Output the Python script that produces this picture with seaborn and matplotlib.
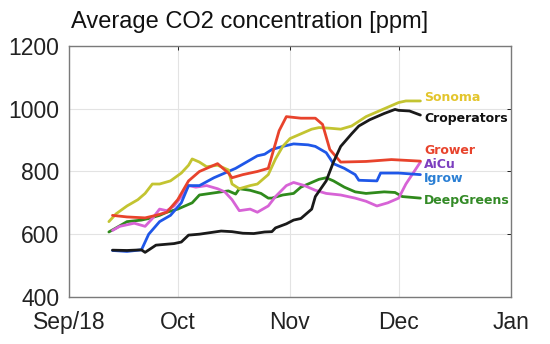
import seaborn as sns
import matplotlib.pyplot as plt
import pandas as pd

# values (ppm)
sonoma_dates = ['2018-09-12', '2018-09-14', '2018-09-17', '2018-09-20', '2018-09-22', '2018-09-24',
                '2018-09-26', '2018-09-29', '2018-10-02', '2018-10-04', '2018-10-05', '2018-10-07',
                '2018-10-09', '2018-10-12', '2018-10-15', '2018-10-16', '2018-10-18', '2018-10-21',
                '2018-10-23', '2018-10-26', '2018-10-28', '2018-10-30', '2018-11-01', '2018-11-04',
                '2018-11-07', '2018-11-09', '2018-11-12', '2018-11-15', '2018-11-18', '2018-11-22',
                '2018-11-25', '2018-11-28', '2018-12-01', '2018-12-03', '2018-12-07']
sonoma_ppm = [640, 665, 690, 710, 730, 760, 760, 770, 795, 820, 840, 830, 815, 820, 805, 760, 745, 755,
              760, 790, 840, 880, 905, 920, 935, 940, 938, 935, 945, 975, 990, 1005, 1020, 1025, 1025]

crop_dates = ['2018-09-13', '2018-09-17', '2018-09-21', '2018-09-22', '2018-09-25', '2018-09-30',
              '2018-10-02', '2018-10-04', '2018-10-07', '2018-10-10', '2018-10-13', '2018-10-16',
              '2018-10-19', '2018-10-22', '2018-10-25', '2018-10-27', '2018-10-28', '2018-10-31',
              '2018-11-02', '2018-11-04', '2018-11-07', '2018-11-08', '2018-11-11', '2018-11-13',
              '2018-11-15', '2018-11-18', '2018-11-20', '2018-11-23', '2018-11-27', '2018-11-30',
              '2018-12-01', '2018-12-04', '2018-12-07']
crop_ppm = [549, 548, 550, 542, 565, 570, 575, 597, 600, 605, 610, 608, 603, 602, 607, 608, 620, 633,
            645, 650, 680, 720, 770, 830, 880, 920, 945, 965, 985, 998, 995, 993, 980]

grower_dates = ['2018-09-13', '2018-09-17', '2018-09-22', '2018-09-25', '2018-09-28', '2018-10-01',
                '2018-10-04', '2018-10-07', '2018-10-11', '2018-10-12', '2018-10-15', '2018-10-16',
                '2018-10-19', '2018-10-23', '2018-10-26', '2018-10-27', '2018-10-29', '2018-10-31',
                '2018-11-04', '2018-11-08', '2018-11-10', '2018-11-12', '2018-11-15', '2018-11-22',
                '2018-11-29', '2018-12-07']
grower_ppm = [660, 655, 652, 660, 670, 710, 770, 800, 820, 825, 795, 780, 790, 800, 810, 850, 930, 975,
              970, 970, 950, 870, 830, 832, 838, 833]

aicu_dates = ['2018-09-13', '2018-09-15', '2018-09-19', '2018-09-22', '2018-09-24', '2018-09-26',
              '2018-09-28', '2018-09-30', '2018-10-02', '2018-10-04', '2018-10-06', '2018-10-09',
              '2018-10-12', '2018-10-14', '2018-10-16', '2018-10-18', '2018-10-21', '2018-10-23',
              '2018-10-26', '2018-10-28', '2018-10-31', '2018-11-02', '2018-11-05', '2018-11-08',
              '2018-11-11', '2018-11-15', '2018-11-19', '2018-11-22', '2018-11-25', '2018-11-28',
              '2018-12-01', '2018-12-03', '2018-12-07']
aicu_ppm = [612, 625, 635, 625, 650, 680, 675, 690, 720, 755, 750, 755, 745, 735, 710, 675, 680, 670,
            690, 720, 755, 765, 755, 740, 730, 725, 715, 705, 690, 700, 715, 760, 830]

igrow_dates = ['2018-09-13', '2018-09-17', '2018-09-21', '2018-09-23', '2018-09-26', '2018-09-29',
               '2018-10-02', '2018-10-04', '2018-10-07', '2018-10-11', '2018-10-15', '2018-10-17',
               '2018-10-20', '2018-10-23', '2018-10-25', '2018-10-27', '2018-10-30', '2018-11-02',
               '2018-11-06', '2018-11-08', '2018-11-11', '2018-11-13', '2018-11-16', '2018-11-19',
               '2018-11-20', '2018-11-25', '2018-11-26', '2018-12-01', '2018-12-07']
igrow_ppm = [548, 545, 550, 600, 640, 660, 700, 755, 755, 780, 800, 810, 830, 850, 855, 870, 880, 888,
             885, 880, 860, 825, 810, 790, 772, 770, 795, 795, 790]

deep_dates = ['2018-09-12', '2018-09-14', '2018-09-17', '2018-09-21', '2018-09-23', '2018-09-26',
              '2018-09-28', '2018-10-01', '2018-10-03', '2018-10-05', '2018-10-07', '2018-10-10',
              '2018-10-13', '2018-10-15', '2018-10-17', '2018-10-18', '2018-10-21', '2018-10-24',
              '2018-10-26', '2018-10-27', '2018-10-30', '2018-11-02', '2018-11-04', '2018-11-07',
              '2018-11-09', '2018-11-11', '2018-11-13', '2018-11-16', '2018-11-19', '2018-11-22',
              '2018-11-27', '2018-11-30', '2018-12-02', '2018-12-07']
deep_ppm = [607, 620, 640, 645, 650, 660, 670, 680, 690, 700, 725, 730, 735, 738, 728, 745, 740, 730,
            715, 715, 725, 730, 750, 765, 775, 780, 770, 750, 735, 730, 735, 733, 720, 715]

names = ['Sonoma', 'Croperators', 'Grower', 'AiCu', 'Igrow', 'DeepGreens']
line_colors = ['#c3c431', '#1a1a1a', '#e8432c', '#d763d6', '#1f57e8', '#2f8a1c']
label_colors = ['#e3c52c', '#111111', '#e8432c', '#7c3fbf', '#2a7fd4', '#338a26']
label_ppm = [1037, 970, 868, 823, 779, 709]

series = [(sonoma_dates, sonoma_ppm), (crop_dates, crop_ppm), (grower_dates, grower_ppm),
          (aicu_dates, aicu_ppm), (igrow_dates, igrow_ppm), (deep_dates, deep_ppm)]

frames = []
for name, (d, v) in zip(names, series):
    frames.append(pd.DataFrame({'date': pd.to_datetime(d), 'ppm': v, 'room': name}))
df = pd.concat(frames, ignore_index=True)

sns.set_style('white')
plt.rcParams['font.family'] = ['Liberation Sans', 'DejaVu Sans']

fig = plt.figure(figsize=(5.5, 3.44), dpi=100)
ax = fig.add_axes([0.1255, 0.137, 0.8035, 0.729])

# draw deep greens first so the others sit on top, like the original
order = ['DeepGreens', 'AiCu', 'Igrow', 'Sonoma', 'Grower', 'Croperators']
sns.lineplot(data=df, x='date', y='ppm', hue='room', hue_order=order,
             palette=dict(zip(names, line_colors)), linewidth=2.0,
             legend=False, ax=ax)

ax.set_xlim(pd.Timestamp('2018-09-01'), pd.Timestamp('2019-01-01'))
ax.set_ylim(400, 1200)
ax.set_yticks([400, 600, 800, 1000, 1200])
ticks = pd.to_datetime(['2018-09-01', '2018-10-01', '2018-11-01', '2018-12-01', '2019-01-01'])
ax.set_xticks(ticks)
ax.set_xticklabels(['Sep/18', 'Oct', 'Nov', 'Dec', 'Jan'])
ax.set_xlabel('')
ax.set_ylabel('')
ax.grid(True, color='#e3e3e3', linewidth=0.8)
ax.tick_params(direction='in', length=3, labelsize=16.5, colors='#222222',
               top=True, right=True, pad=7, width=0.7)
ax.tick_params(axis='x', pad=10)
for s in ax.spines.values():
    s.set_color('#7a7a7a')
    s.set_linewidth(1.0)

for name, c, y in zip(names, label_colors, label_ppm):
    ax.text(pd.Timestamp('2018-12-08'), y, name, color=c, fontsize=9, fontweight='bold',
            family='DejaVu Sans', va='center', ha='left', clip_on=False)

fig.text(0.129, 0.935, 'Average CO2 concentration [ppm]', fontsize=17, color='#111111',
         ha='left', va='center')

fig.savefig('out.png', dpi=100)
